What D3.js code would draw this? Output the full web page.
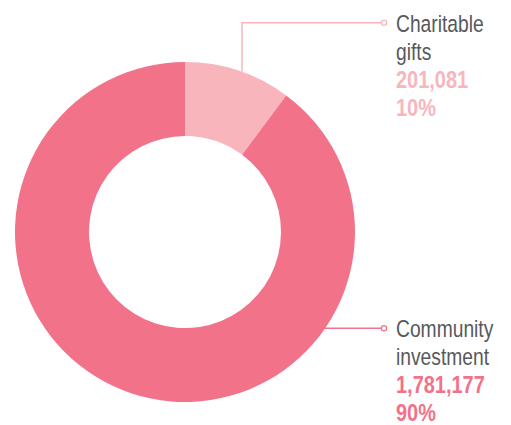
<!DOCTYPE html>
<html><head><meta charset="utf-8">
<script src="https://cdn.jsdelivr.net/npm/d3@7"></script>
<style>html,body{margin:0;padding:0;background:#fff;}</style>
</head><body>
<svg id="c" width="511" height="425"></svg>
<script>
const categories = ["Charitable gifts", "Community investment"];
const labelLines = [["Charitable", "gifts"], ["Community", "investment"]];
const values = [201081, 1781177];
const colors = ["#F8B6BC", "#F27289"];

const W = 511, H = 425;
const cx = 185, cy = 232, R = 170, r0 = 96;
const svg = d3.select("#c");
const g = svg.append("g").attr("transform", `translate(${cx},${cy})`);

const pie = d3.pie().sort(null).value(d => d);
const arcs = pie(values);
const arc = d3.arc().innerRadius(r0).outerRadius(R);

g.selectAll("path").data(arcs).enter().append("path")
  .attr("d", arc).attr("fill", (d, i) => colors[i]);

const total = d3.sum(values);
const fmt = d3.format(",");
const pct = v => Math.round(v / total * 100) + "%";

const font = "'Liberation Sans', Arial, sans-serif";
const textX = 396, dotX = 384, lineH = 28;
const squeezeReg = 0.82, squeezeBold = 0.85;
// label anchor y (leader line height) for each category
const anchorY = [22.7, 328.3];

// Leader for first slice: vertical from outer arc then horizontal
{
  const x0 = 242;
  const yArc = cy - Math.sqrt(R * R - (x0 - cx) * (x0 - cx));
  svg.append("path")
    .attr("d", `M${x0},${yArc}V${anchorY[0]}H${dotX - 2.6}`)
    .attr("fill", "none").attr("stroke", colors[0]).attr("stroke-width", 1.5);
}
// Leader for second slice: horizontal from outer arc
{
  const dy = anchorY[1] - cy;
  const xArc = cx + Math.sqrt(R * R - dy * dy);
  svg.append("path")
    .attr("d", `M${xArc - 1},${anchorY[1]}H${dotX - 2.6}`)
    .attr("fill", "none").attr("stroke", colors[1]).attr("stroke-width", 1.5);
}
anchorY.forEach((y, i) => {
  svg.append("circle").attr("cx", dotX).attr("cy", y).attr("r", 2.6)
    .attr("fill", "#fff").attr("stroke", colors[i]).attr("stroke-width", 1.3);
  const base = y + 9.2;
  const reg = svg.append("g").attr("font-family", font).attr("font-size", 23.5)
    .attr("transform", `translate(${textX},0) scale(${squeezeReg},1)`);
  labelLines[i].forEach((s, k) => {
    reg.append("text").attr("x", 0).attr("y", base + k * lineH)
      .attr("fill", "#58595B").text(s);
  });
  const bold = svg.append("g").attr("font-family", font).attr("font-size", 23.5)
    .attr("font-weight", "bold").attr("fill", colors[i])
    .attr("transform", `translate(${textX},0) scale(${squeezeBold},1)`);
  bold.append("text").attr("x", 0).attr("y", base + 2 * lineH).text(fmt(values[i]));
  bold.append("text").attr("x", 0).attr("y", base + 3 * lineH).text(pct(values[i]));
});
</script>
</body></html>
